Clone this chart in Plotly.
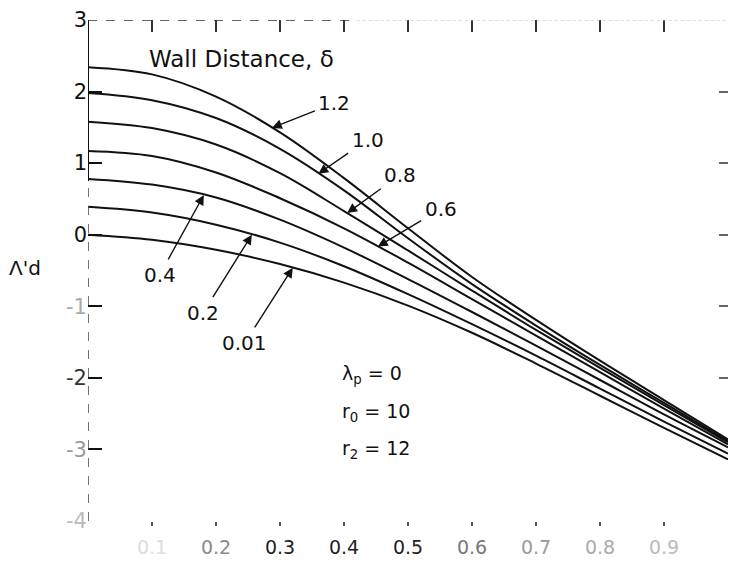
import numpy as np
import plotly.graph_objects as go

# Dimensionless position along the gap (x) and the curve values (Λ'd) for each wall distance δ
x_vals = [0.0, 0.1, 0.2, 0.3, 0.4, 0.5, 0.6, 0.7, 0.8, 0.9, 1.0]
delta_labels = ["0.01", "0.2", "0.4", "0.6", "0.8", "1.0", "1.2"]
d_001 = [0.0, -0.07, -0.21, -0.41, -0.67, -0.99, -1.37, -1.80, -2.25, -2.70, -3.14]
d_02 = [0.39, 0.31, 0.14, -0.11, -0.44, -0.83, -1.25, -1.69, -2.15, -2.61, -3.06]
d_04 = [0.78, 0.70, 0.52, 0.21, -0.18, -0.62, -1.08, -1.55, -2.03, -2.51, -2.97]
d_06 = [1.17, 1.10, 0.87, 0.51, 0.09, -0.39, -0.90, -1.41, -1.92, -2.43, -2.93]
d_08 = [1.58, 1.49, 1.26, 0.86, 0.33, -0.22, -0.78, -1.33, -1.86, -2.38, -2.90]
d_10 = [1.98, 1.88, 1.63, 1.20, 0.62, -0.05, -0.69, -1.27, -1.82, -2.35, -2.88]
d_12 = [2.34, 2.24, 1.93, 1.43, 0.79, 0.09, -0.59, -1.19, -1.76, -2.31, -2.86]
series = [d_001, d_02, d_04, d_06, d_08, d_10, d_12]

# Axis ticks
x_ticks = [0.1, 0.2, 0.3, 0.4, 0.5, 0.6, 0.7, 0.8, 0.9]
x_ticktext = ["0.1", "0.2", "0.3", "0.4", "0.5", "0.6", "0.7", "0.8", "0.9"]
x_tickshade = ["#dddddd", "#8a8a8a", "#222", "#222", "#222", "#777", "#9a9a9a", "#aaaaaa", "#bbbbbb"]
y_ticks = [3, 2, 1, 0, -1, -2, -3, -4]
y_ticktext = ["3", "2", "1", "0", "-1", "-2", "-3", "-4"]
y_tickshade = ["#111", "#111", "#111", "#111", "#aaaaaa", "#333", "#999999", "#bbbbbb"]

# Where each curve's leader arrow lands (x along the curve) and where its label sits
tip_x = {"1.2": 0.2875, "1.0": 0.36, "0.8": 0.405, "0.6": 0.453,
         "0.4": 0.181, "0.2": 0.256, "0.01": 0.32}
label_pos = {"1.2": (0.385, 1.84), "1.0": (0.437, 1.33), "0.8": (0.488, 0.84),
             "0.6": (0.551, 0.36), "0.4": (0.112, -0.56), "0.2": (0.18, -1.09),
             "0.01": (0.245, -1.51)}

FONT = "DejaVu Sans"
INK = "#111111"

W, H = 733, 572
ML, MR, MT, MB = 88, 5, 20, 51
pw, ph = W - ML - MR, H - MT - MB

fig = go.Figure()
for lab, ys in zip(delta_labels, series):
    fig.add_trace(go.Scatter(
        x=x_vals, y=ys, mode="lines", name=lab,
        line=dict(color=INK, width=2, shape="spline", smoothing=1.0),
        hoverinfo="skip", showlegend=False))

# carrier trace for the top and right tick axes
fig.add_trace(go.Scatter(x=[0, 1], y=[-4, 3], mode="lines", xaxis="x2", yaxis="y2",
                         line=dict(width=0, color="rgba(0,0,0,0)"),
                         hoverinfo="skip", showlegend=False))

annotations = []
for lab, ys in zip(delta_labels, series):
    tx = tip_x[lab]
    ty = float(np.interp(tx, x_vals, ys))
    lx, ly = label_pos[lab]
    # label text with a leader arrow running from the label to its curve
    annotations.append(dict(x=tx, y=ty, xref="x", yref="y", text=lab,
                            axref="x", ayref="y", ax=lx, ay=ly, showarrow=True,
                            arrowhead=2, arrowsize=1.4, arrowwidth=1.4, arrowcolor=INK,
                            borderpad=3,
                            font=dict(family=FONT, size=20, color=INK)))

annotations += [
    dict(x=0.092, y=2.46, xref="x", yref="y", xanchor="left", text="Wall Distance, δ",
         showarrow=False, font=dict(family=FONT, size=23, color=INK)),
    dict(x=0.394, y=-1.95, xref="x", yref="y", xanchor="left",
         text="λ<sub>p</sub> = 0", showarrow=False, font=dict(family=FONT, size=19, color=INK)),
    dict(x=0.394, y=-2.48, xref="x", yref="y", xanchor="left",
         text="r<sub>0</sub> = 10", showarrow=False, font=dict(family=FONT, size=19, color=INK)),
    dict(x=0.394, y=-3.0, xref="x", yref="y", xanchor="left",
         text="r<sub>2</sub> = 12", showarrow=False, font=dict(family=FONT, size=19, color=INK)),
    # vertical-axis title
    dict(x=(25 - ML) / pw, y=1 - (268 - MT) / ph, xref="paper", yref="paper",
         xanchor="center", yanchor="middle", text="Λ'd", showarrow=False,
         font=dict(family=FONT, size=20, color=INK)),
]

shapes = [
    # left frame: solid upper part, broken lower part
    dict(type="line", xref="x", yref="y", x0=0, x1=0, y0=0.75, y1=3,
         line=dict(color=INK, width=2)),
    dict(type="line", xref="x", yref="y", x0=0, x1=0, y0=-4, y1=0.75,
         line=dict(color="#444", width=1.5, dash="dash")),
    # top frame, worn dashed line
    dict(type="line", xref="x", yref="y", x0=0, x1=0.42, y0=3, y1=3,
         line=dict(color="#333", width=1.5, dash="dash")),
    dict(type="line", xref="x", yref="y", x0=0.42, x1=1, y0=3, y1=3,
         line=dict(color="#bbb", width=1, dash="dot")),
]

fig.update_layout(
    width=W, height=H,
    margin=dict(l=ML, r=MR, t=MT, b=MB),
    paper_bgcolor="white", plot_bgcolor="white",
    showlegend=False,
    annotations=annotations,
    shapes=shapes,
    xaxis=dict(range=[0, 1], showgrid=False, zeroline=False, showline=False,
               tickmode="array", tickvals=x_ticks,
               ticktext=[f'<span style="color:{c}">{t}</span>' for t, c in zip(x_ticktext, x_tickshade)],
               ticks="outside", ticklen=4, tickwidth=2, tickcolor="#555",
               ticklabelstandoff=5,
               tickfont=dict(family=FONT, size=19, color=INK)),
    yaxis=dict(range=[-4, 3], showgrid=False, zeroline=False, showline=False,
               tickmode="array", tickvals=y_ticks,
               ticktext=[f'<span style="color:{c}">{t}</span>' for t, c in zip(y_ticktext, y_tickshade)],
               ticks="inside", ticklen=14, tickwidth=2, tickcolor=INK,
               tickfont=dict(family=FONT, size=21, color=INK)),
    xaxis2=dict(range=[0, 1], overlaying="x", side="top", anchor="y", showgrid=False,
                zeroline=False, showline=False, tickmode="array",
                tickvals=[0.1, 0.2, 0.3, 0.4, 0.5, 0.6, 0.7, 0.8, 0.9, 1.0],
                ticks="inside", ticklen=12, tickwidth=1.5, tickcolor="#333",
                showticklabels=False),
    yaxis2=dict(range=[-4, 3], overlaying="y", side="right", anchor="x", showgrid=False,
                zeroline=False, showline=False, tickmode="array",
                tickvals=[2, 1, 0, -1, -2], ticks="inside", ticklen=9, tickwidth=1.5,
                tickcolor="#666", showticklabels=False),
)

fig.write_html("out.html")
